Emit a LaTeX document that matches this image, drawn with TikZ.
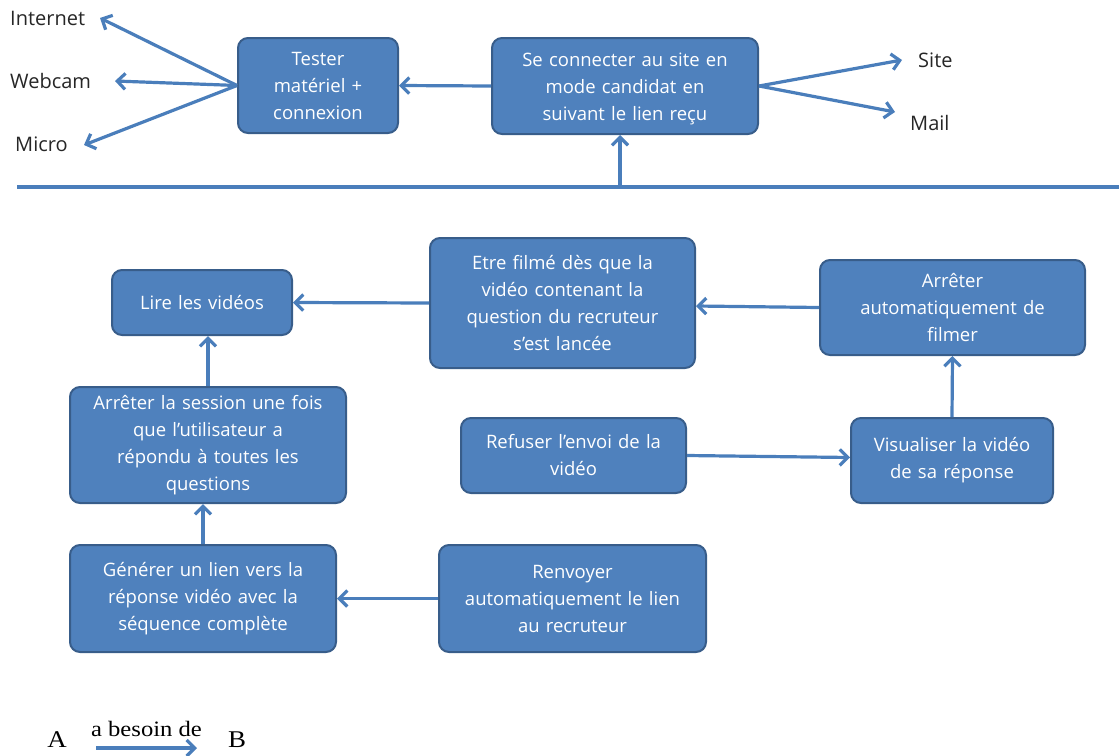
\documentclass[tikz,border=0pt]{standalone}
\usepackage{fontspec}
\setmainfont{Open Sans}
\newfontfamily\legendfont[FakeStretch=1.12]{Liberation Serif}
\usetikzlibrary{arrows.meta}
\definecolor{boxfill}{HTML}{4F81BD}
\definecolor{boxline}{HTML}{385D8A}
\definecolor{arrowc}{HTML}{4A7EBB}
\tikzset{
  stepbox/.style={draw=boxline, line width=2pt, fill=boxfill, rounded corners=10pt,
    text=white, align=center, inner sep=2pt, font=\fontsize{18.5}{27}\selectfont},
  lbl/.style={text=black!85, font=\fontsize{20}{23}\selectfont, inner sep=0pt},
  conn/.style={draw=arrowc, line width=3.2pt, -{Straight Barb[length=8pt,width=16pt,line width=3.2pt]}},
}
\begin{document}
\begin{tikzpicture}[x=1pt,y=-1pt]
\useasboundingbox (0,0) rectangle (1119,755);
% top part
\node[stepbox, minimum width=160pt, minimum height=95pt, text width=154pt] (tester) at (318,85.5) {Tester\\matériel +\\connexion};
\node[stepbox, minimum width=266pt, minimum height=96pt, text width=258pt] (connect) at (625,86) {\rule{0pt}{20pt}Se connecter au site en\\mode candidat en\\suivant le lien reçu};
\node[lbl, anchor=west] (internet) at (10,18) {Internet};
\node[lbl, anchor=west] (webcam) at (10,81) {Webcam};
\node[lbl, anchor=west] (micro) at (15,144) {Micro};
\node[lbl, anchor=west] (site) at (918,60) {Site};
\node[lbl, anchor=west] (mail) at (910,123) {Mail};
\coordinate (tinternet) at (100,18);
\coordinate (twebcam) at (115,81);
\coordinate (tmicro) at (84,145);
\coordinate (tsite) at (902,60);
\coordinate (tmail) at (895,112);
\draw[conn] (tester.west) -- (tinternet);
\draw[conn] (tester.west) -- (twebcam);
\draw[conn] (tester.west) -- (tmicro);
\draw[conn] (connect.west) -- (tester.east);
\draw[conn] (connect.east) -- (tsite);
\draw[conn] (connect.east) -- (tmail);
\coordinate (lineL) at (17,187);
\coordinate (lineR) at (1119,187);
\coordinate (lineM) at (620,187);
\draw[draw=arrowc, line width=3.2pt] (lineL) -- (lineR);
\draw[conn] (lineM) -- (connect.south -| lineM);
% lower part
\node[stepbox, minimum width=180pt, minimum height=65pt, text width=172pt] (lire) at (202,302.5) {Lire les vidéos};
\node[stepbox, minimum width=265pt, minimum height=130pt, text width=257pt] (filme) at (562.5,303) {Etre filmé dès que la\\vidéo contenant la\\question du recruteur\\s'est lancée};
\node[stepbox, minimum width=265pt, minimum height=95pt, text width=257pt] (stopauto) at (952.5,307.5) {Arrêter\\automatiquement de\\filmer};
\node[stepbox, minimum width=276pt, minimum height=116pt, text width=268pt] (session) at (208,445) {Arrêter la session une fois\\que l'utilisateur a\\répondu à toutes les\\questions};
\node[stepbox, minimum width=225pt, minimum height=75pt, text width=217pt] (refuser) at (573.5,455.5) {Refuser l'envoi de la\\vidéo};
\node[stepbox, minimum width=202pt, minimum height=85pt, text width=194pt] (visu) at (952,460.5) {Visualiser la vidéo\\de sa réponse};
\node[stepbox, minimum width=266pt, minimum height=107pt, text width=258pt] (generer) at (203,598.5) {Générer un lien vers la\\réponse vidéo avec la\\séquence complète};
\node[stepbox, minimum width=267pt, minimum height=107pt, text width=259pt] (renvoyer) at (572.5,598.5) {Renvoyer\\automatiquement le lien\\au recruteur};
\draw[conn] (filme.west) -- (lire.east);
\draw[conn] (stopauto.west) -- ([yshift=-3pt]filme.east);
\draw[conn] (visu.north) -- (stopauto.south);
\draw[conn] (refuser.east) -- ([yshift=3pt]visu.west);
\draw[conn] (session.north) -- (session.north |- lire.south);
\draw[conn] (generer.north) -- (generer.north |- session.south);
\draw[conn] (renvoyer.west) -- (generer.east);
% legend
\node[font=\legendfont\fontsize{24}{26}\selectfont, inner sep=0pt] (A) at (57,740) {A};
\node[font=\legendfont\fontsize{24}{26}\selectfont, inner sep=0pt] (B) at (237,740) {B};
\coordinate (legs) at (96,748);
\coordinate (lege) at (197,748);
\draw[conn] (legs) -- node[above=10pt, font=\legendfont\fontsize{22}{24}\selectfont, inner sep=0pt] (legtxt) {a besoin de} (lege);
\end{tikzpicture}
\end{document}
